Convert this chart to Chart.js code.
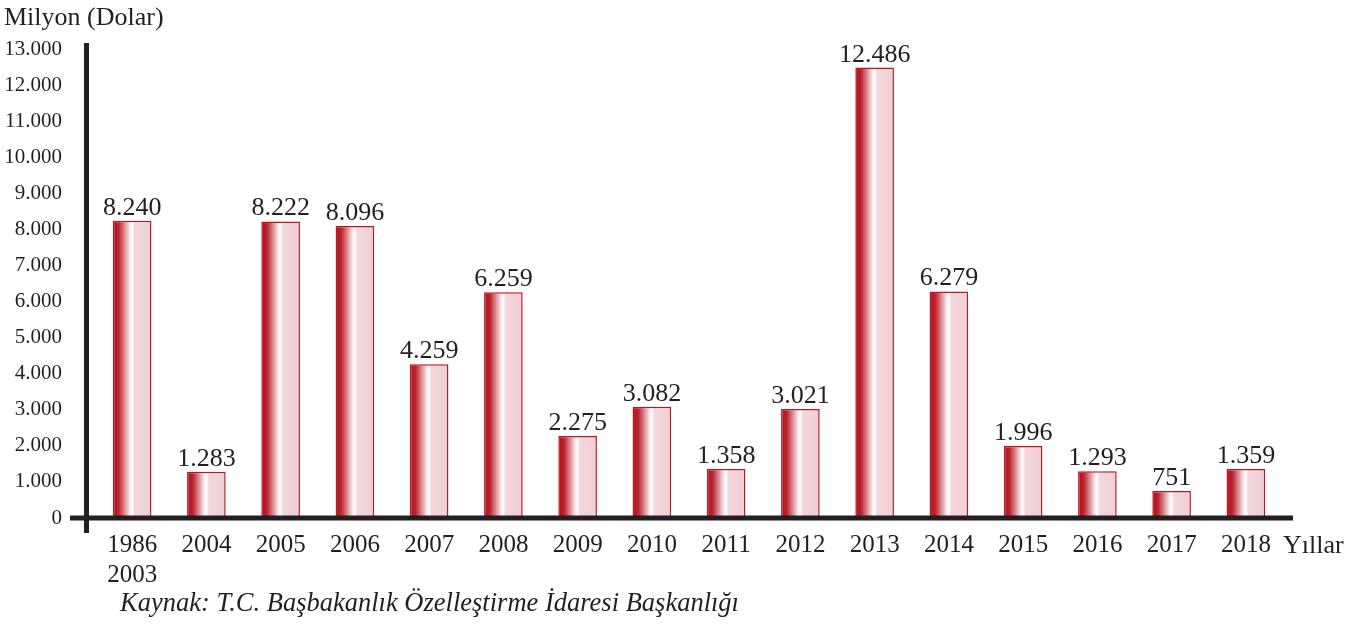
<!DOCTYPE html>
<html>
<head>
<meta charset="utf-8">
<script src="https://cdn.jsdelivr.net/npm/chart.js@4"></script>
<style>
html,body{margin:0;padding:0;background:#fff;}
#wrap{width:1365px;height:624px;position:relative;}
</style>
</head>
<body>
<div id="wrap"><canvas id="c" width="1365" height="624"></canvas></div>
<script>
const categories = [['1986','2003'],'2004','2005','2006','2007','2008','2009','2010','2011','2012','2013','2014','2015','2016','2017','2018'];
const values = [8240,1283,8222,8096,4259,6259,2275,3082,1358,3021,12486,6279,1996,1293,751,1359];
const yMax = 13000;
const yStep = 1000;
const yTitle = 'Milyon (Dolar)';
const xTitle = 'Yıllar';
const sourceText = 'Kaynak: T.C. Başbakanlık Özelleştirme İdaresi Başkanlığı';

const FONT = '"Liberation Serif", "Times New Roman", serif';
const INK = '#231f20';

function fmt(v){ return String(v).replace(/\B(?=(\d{3})+(?!\d))/g, '.'); }

function barFill(c){
  const chart = c.chart;
  if(!chart.chartArea || !chart.scales.x) return '#c0141f';
  const xs = chart.scales.x;
  const cx = xs.getPixelForValue(c.dataIndex);
  const w = (xs.width / categories.length) * 0.52;
  const g = chart.ctx.createLinearGradient(cx - w/2, 0, cx + w/2, 0);
  g.addColorStop(0, '#b00d19');
  g.addColorStop(0.15, '#bb2430');
  g.addColorStop(0.45, '#fbeef0');
  g.addColorStop(0.5, '#ffffff');
  g.addColorStop(0.56, '#f3d7db');
  g.addColorStop(1, '#efcfd4');
  return g;
}

const decor = {
  id: 'decor',
  afterDatasetsDraw(chart){
    const ctx = chart.ctx;
    const a = chart.chartArea;
    const y0 = chart.scales.y.getPixelForValue(0);
    ctx.save();
    ctx.strokeStyle = INK;
    ctx.lineWidth = 5;
    ctx.beginPath();
    ctx.moveTo(a.left - 8.5, a.top - 6);
    ctx.lineTo(a.left - 8.5, y0 + 15);
    ctx.stroke();
    ctx.beginPath();
    ctx.moveTo(a.left - 25, y0);
    ctx.lineTo(a.right + 10, y0);
    ctx.stroke();
    // value labels
    ctx.fillStyle = INK;
    ctx.font = '26px ' + FONT;
    ctx.textAlign = 'center';
    ctx.textBaseline = 'alphabetic';
    const meta = chart.getDatasetMeta(0);
    meta.data.forEach((bar, i) => {
      ctx.fillText(fmt(values[i]), bar.x, bar.y - 6);
    });
    // titles
    ctx.textAlign = 'left';
    ctx.font = '26px ' + FONT;
    ctx.fillText(yTitle, 4, 25);
    ctx.font = '26px ' + FONT;
    ctx.fillText(xTitle, 1283, y0 + 35);
    ctx.font = 'italic 26.5px ' + FONT;
    ctx.fillText(sourceText, 120, 611);
    ctx.restore();
  }
};

new Chart(document.getElementById('c'), {
  type: 'bar',
  data: {
    labels: categories,
    datasets: [{
      data: values,
      backgroundColor: barFill,
      borderColor: '#c0141f',
      borderWidth: 1.5,
      borderSkipped: 'bottom',
      categoryPercentage: 1,
      barPercentage: 0.52
    }]
  },
  options: {
    responsive: false,
    animation: false,
    events: [],
    layout: { padding: { top: 49, right: 82, left: 0, bottom: 0 } },
    plugins: { legend: { display: false }, tooltip: { enabled: false } },
    scales: {
      x: {
        grid: { display: false, drawTicks: false },
        border: { display: false },
        ticks: { color: INK, font: { family: FONT, size: 25, lineHeight: 1.2 }, padding: 12, maxRotation: 0, autoSkip: false },
        afterFit(s){ s.height = 106; }
      },
      y: {
        min: 0, max: yMax,
        grid: { display: false, drawTicks: false },
        border: { display: false },
        ticks: { stepSize: yStep, color: INK, font: { family: FONT, size: 21 }, padding: 33, callback: v => fmt(v) },
        afterFit(s){ s.width = 95; }
      }
    }
  },
  plugins: [decor]
});
</script>
</body>
</html>
